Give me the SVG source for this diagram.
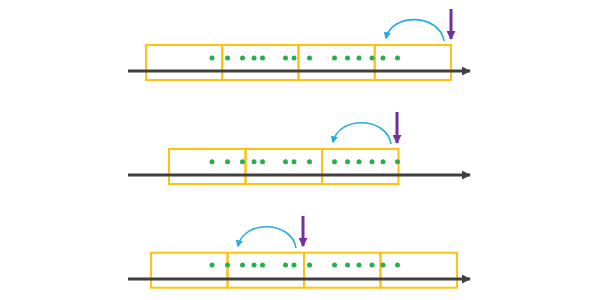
<svg xmlns="http://www.w3.org/2000/svg" xmlns:xlink="http://www.w3.org/1999/xlink" width="600" height="300" viewBox="0 0 600 300">
<style>
.box{fill:none;stroke:#FFC20E;stroke-width:2}
.axis{stroke:#404040;stroke-width:3;fill:none}
.dot{fill:#22B14C}
.ptr{stroke:#7030A0;stroke-width:3;fill:none}
.arc{stroke:#29ABE2;stroke-width:1.6;fill:none}
</style>
<defs>
<marker id="ah" viewBox="0 0 10 10" refX="9" refY="5" markerWidth="3" markerHeight="3" orient="auto" markerUnits="strokeWidth"><path d="M0,0L10,5L0,10z" fill="#404040"/></marker>
<marker id="ph" viewBox="0 0 10 10" refX="9" refY="5" markerWidth="3" markerHeight="3" orient="auto" markerUnits="strokeWidth"><path d="M0,0L10,5L0,10z" fill="#7030A0"/></marker>
<marker id="bh" viewBox="0 0 10 10" refX="8" refY="5" markerWidth="4.5" markerHeight="4.5" orient="auto" markerUnits="strokeWidth"><path d="M0,0L10,5L0,10z" fill="#29ABE2"/></marker>
<g id="dots">
<circle class="dot" cx="212" cy="0" r="2.5"/><circle class="dot" cx="227.5" cy="0" r="2.5"/><circle class="dot" cx="242.5" cy="0" r="2.5"/><circle class="dot" cx="254" cy="0" r="2.5"/><circle class="dot" cx="262.5" cy="0" r="2.5"/><circle class="dot" cx="285.5" cy="0" r="2.5"/><circle class="dot" cx="294" cy="0" r="2.5"/><circle class="dot" cx="309.5" cy="0" r="2.5"/><circle class="dot" cx="334.5" cy="0" r="2.5"/><circle class="dot" cx="347.5" cy="0" r="2.5"/><circle class="dot" cx="359" cy="0" r="2.5"/><circle class="dot" cx="372" cy="0" r="2.5"/><circle class="dot" cx="383" cy="0" r="2.5"/><circle class="dot" cx="397.5" cy="0" r="2.5"/>
</g>
</defs>
<g id="row1">
<rect class="box" x="146" y="45" width="76.25" height="35"/>
<rect class="box" x="222.25" y="45" width="76.25" height="35"/>
<rect class="box" x="298.5" y="45" width="76.25" height="35"/>
<rect class="box" x="374.75" y="45" width="76.25" height="35"/>
<line class="axis" x1="128" y1="71" x2="470" y2="71" marker-end="url(#ah)"/>
<use xlink:href="#dots" y="58"/>
<line class="ptr" x1="451" y1="9" x2="451" y2="39" marker-end="url(#ph)"/>
<path class="arc" d="M444,41 C440,14 392,12 386,38" marker-end="url(#bh)"/>
</g>
<g id="row2">
<rect class="box" x="169" y="149" width="76.5" height="35"/>
<rect class="box" x="245.5" y="149" width="76.5" height="35"/>
<rect class="box" x="322" y="149" width="76.5" height="35"/>
<line class="axis" x1="128" y1="175" x2="470" y2="175" marker-end="url(#ah)"/>
<use xlink:href="#dots" y="161.7"/>
<line class="ptr" x1="397" y1="112" x2="397" y2="143" marker-end="url(#ph)"/>
<path class="arc" d="M391,144 C387,117 339,115 333,142" marker-end="url(#bh)"/>
</g>
<g id="row3">
<rect class="box" x="151" y="252.7" width="76.5" height="35"/>
<rect class="box" x="227.5" y="252.7" width="76.5" height="35"/>
<rect class="box" x="304" y="252.7" width="76.5" height="35"/>
<rect class="box" x="380.5" y="252.7" width="76.5" height="35"/>
<line class="axis" x1="128" y1="279" x2="470" y2="279" marker-end="url(#ah)"/>
<use xlink:href="#dots" y="265"/>
<line class="ptr" x1="303" y1="216" x2="303" y2="246" marker-end="url(#ph)"/>
<path class="arc" d="M296,248 C292,221 244,219 238,246" marker-end="url(#bh)"/>
</g>
</svg>
